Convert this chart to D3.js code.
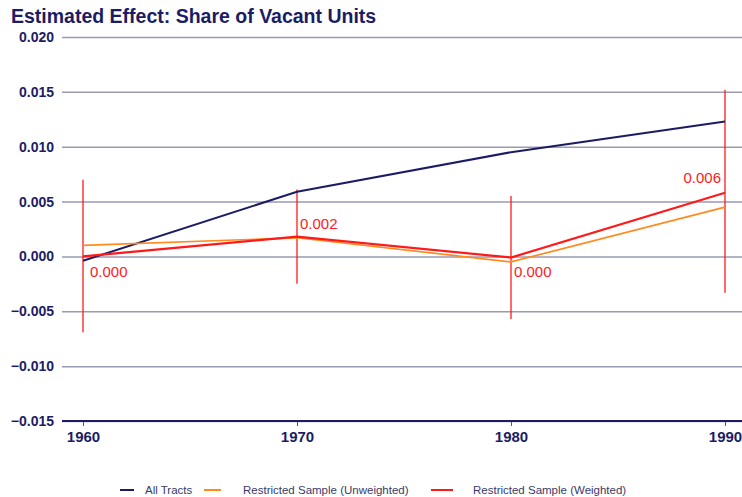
<!DOCTYPE html>
<html>
<head>
<meta charset="utf-8">
<script src="https://cdn.jsdelivr.net/npm/d3@7"></script>
<style>
  body { margin: 0; background: #fff; }
  text { font-family: Arial, "Liberation Sans", sans-serif; }
</style>
</head>
<body>
<svg id="chart" width="742" height="497"></svg>
<script>
// Data
const years = [1960, 1970, 1980, 1990];
const allTracts = [-0.0004, 0.0059, 0.0095, 0.0123];
const unweighted = [0.0010, 0.0017, -0.0005, 0.0045];
const weighted = [0.0000, 0.0018, -0.0001, 0.0058];
const ciUpper = [0.0070, 0.0061, 0.0055, 0.0152];
const ciLower = [-0.0069, -0.0025, -0.0057, -0.0033];
const pointLabels = ['0.000', '0.002', '0.000', '0.006'];
const yTicks = [-0.015, -0.010, -0.005, 0.000, 0.005, 0.010, 0.015, 0.020];

const navy = '#1c1c64';
const orange = '#ff8a1e';
const red = '#ff1a1a';

const svg = d3.select('#chart');

const x = d3.scaleLinear().domain([1960, 1990]).range([83, 725]);
const y = d3.scaleLinear().domain([-0.015, 0.020]).range([421, 37]);

// Title
svg.append('text')
    .attr('x', 11)
    .attr('y', 23)
    .attr('fill', navy)
    .style('font-size', '19.5px')
    .style('font-weight', 'bold')
    .text('Estimated Effect: Share of Vacant Units');

// Gridlines + y labels
const yAxisG = svg.append('g')
    .attr('transform', 'translate(62,0)')
    .call(d3.axisRight(y)
      .tickValues(yTicks)
      .tickSize(742 - 62)
      .tickFormat(d3.format('.3f')));
yAxisG.select('.domain').remove();
yAxisG.selectAll('.tick line')
    .attr('stroke', '#9a9ab4')
    .attr('stroke-width', 1.5);
yAxisG.selectAll('.tick text')
    .attr('x', -8)
    .attr('text-anchor', 'end')
    .attr('fill', navy)
    .style('font-size', '14px')
    .style('font-weight', 'bold');

// Bottom axis
const xAxisG = svg.append('g')
    .attr('transform', `translate(0,${y(-0.015)})`)
    .call(d3.axisBottom(x)
      .tickValues(years)
      .tickSize(5)
      .tickFormat(d3.format('d')));
xAxisG.select('.domain').remove();
xAxisG.append('line')
    .attr('x1', 62).attr('x2', 742)
    .attr('stroke', navy)
    .attr('stroke-width', 2);
xAxisG.selectAll('.tick line').attr('stroke', '#555577');
xAxisG.selectAll('.tick text')
    .attr('y', 10)
    .attr('fill', navy)
    .style('font-size', '15px')
    .style('font-weight', 'bold');

// Confidence bars for the weighted sample
svg.append('g').selectAll('line')
  .data(years)
  .join('line')
    .attr('x1', d => x(d)).attr('x2', d => x(d))
    .attr('y1', (d, i) => y(ciUpper[i]))
    .attr('y2', (d, i) => y(ciLower[i]))
    .attr('stroke', red)
    .attr('stroke-width', 1.3);

// Series lines
const line = d3.line()
    .x((d, i) => x(years[i]))
    .y(d => y(d));

const series = [
  { values: allTracts, color: navy, width: 2 },
  { values: unweighted, color: orange, width: 1.7 },
  { values: weighted, color: red, width: 2.2 }
];

svg.append('g').selectAll('path')
  .data(series)
  .join('path')
    .attr('d', d => line(d.values))
    .attr('fill', 'none')
    .attr('stroke', d => d.color)
    .attr('stroke-width', d => d.width);

// Point labels on the weighted series
const labelPos = [
  { dx: 7, dy: 21, anchor: 'start' },
  { dx: 3, dy: -8, anchor: 'start' },
  { dx: 3, dy: 19, anchor: 'start' },
  { dx: -4, dy: -10, anchor: 'end' }
];
svg.append('g').selectAll('text')
  .data(years)
  .join('text')
    .attr('x', (d, i) => x(d) + labelPos[i].dx)
    .attr('y', (d, i) => y(weighted[i]) + labelPos[i].dy)
    .attr('text-anchor', (d, i) => labelPos[i].anchor)
    .attr('fill', red)
    .style('font-size', '15px')
    .text((d, i) => pointLabels[i]);

// Legend
const legendItems = [
  { label: 'All Tracts', color: navy, sx: 120, sw: 14, tx: 145 },
  { label: 'Restricted Sample (Unweighted)', color: orange, sx: 204, sw: 17, tx: 243 },
  { label: 'Restricted Sample (Weighted)', color: red, sx: 431, sw: 22, tx: 473 }
];
const legend = svg.append('g').attr('transform', 'translate(0,490)');
legend.selectAll('line')
  .data(legendItems)
  .join('line')
    .attr('x1', d => d.sx).attr('x2', d => d.sx + d.sw)
    .attr('stroke', d => d.color)
    .attr('stroke-width', 2);
legend.selectAll('text')
  .data(legendItems)
  .join('text')
    .attr('x', d => d.tx)
    .attr('y', 4)
    .attr('fill', '#3a3a6a')
    .style('font-size', '11.5px')
    .text(d => d.label);
</script>
</body>
</html>
